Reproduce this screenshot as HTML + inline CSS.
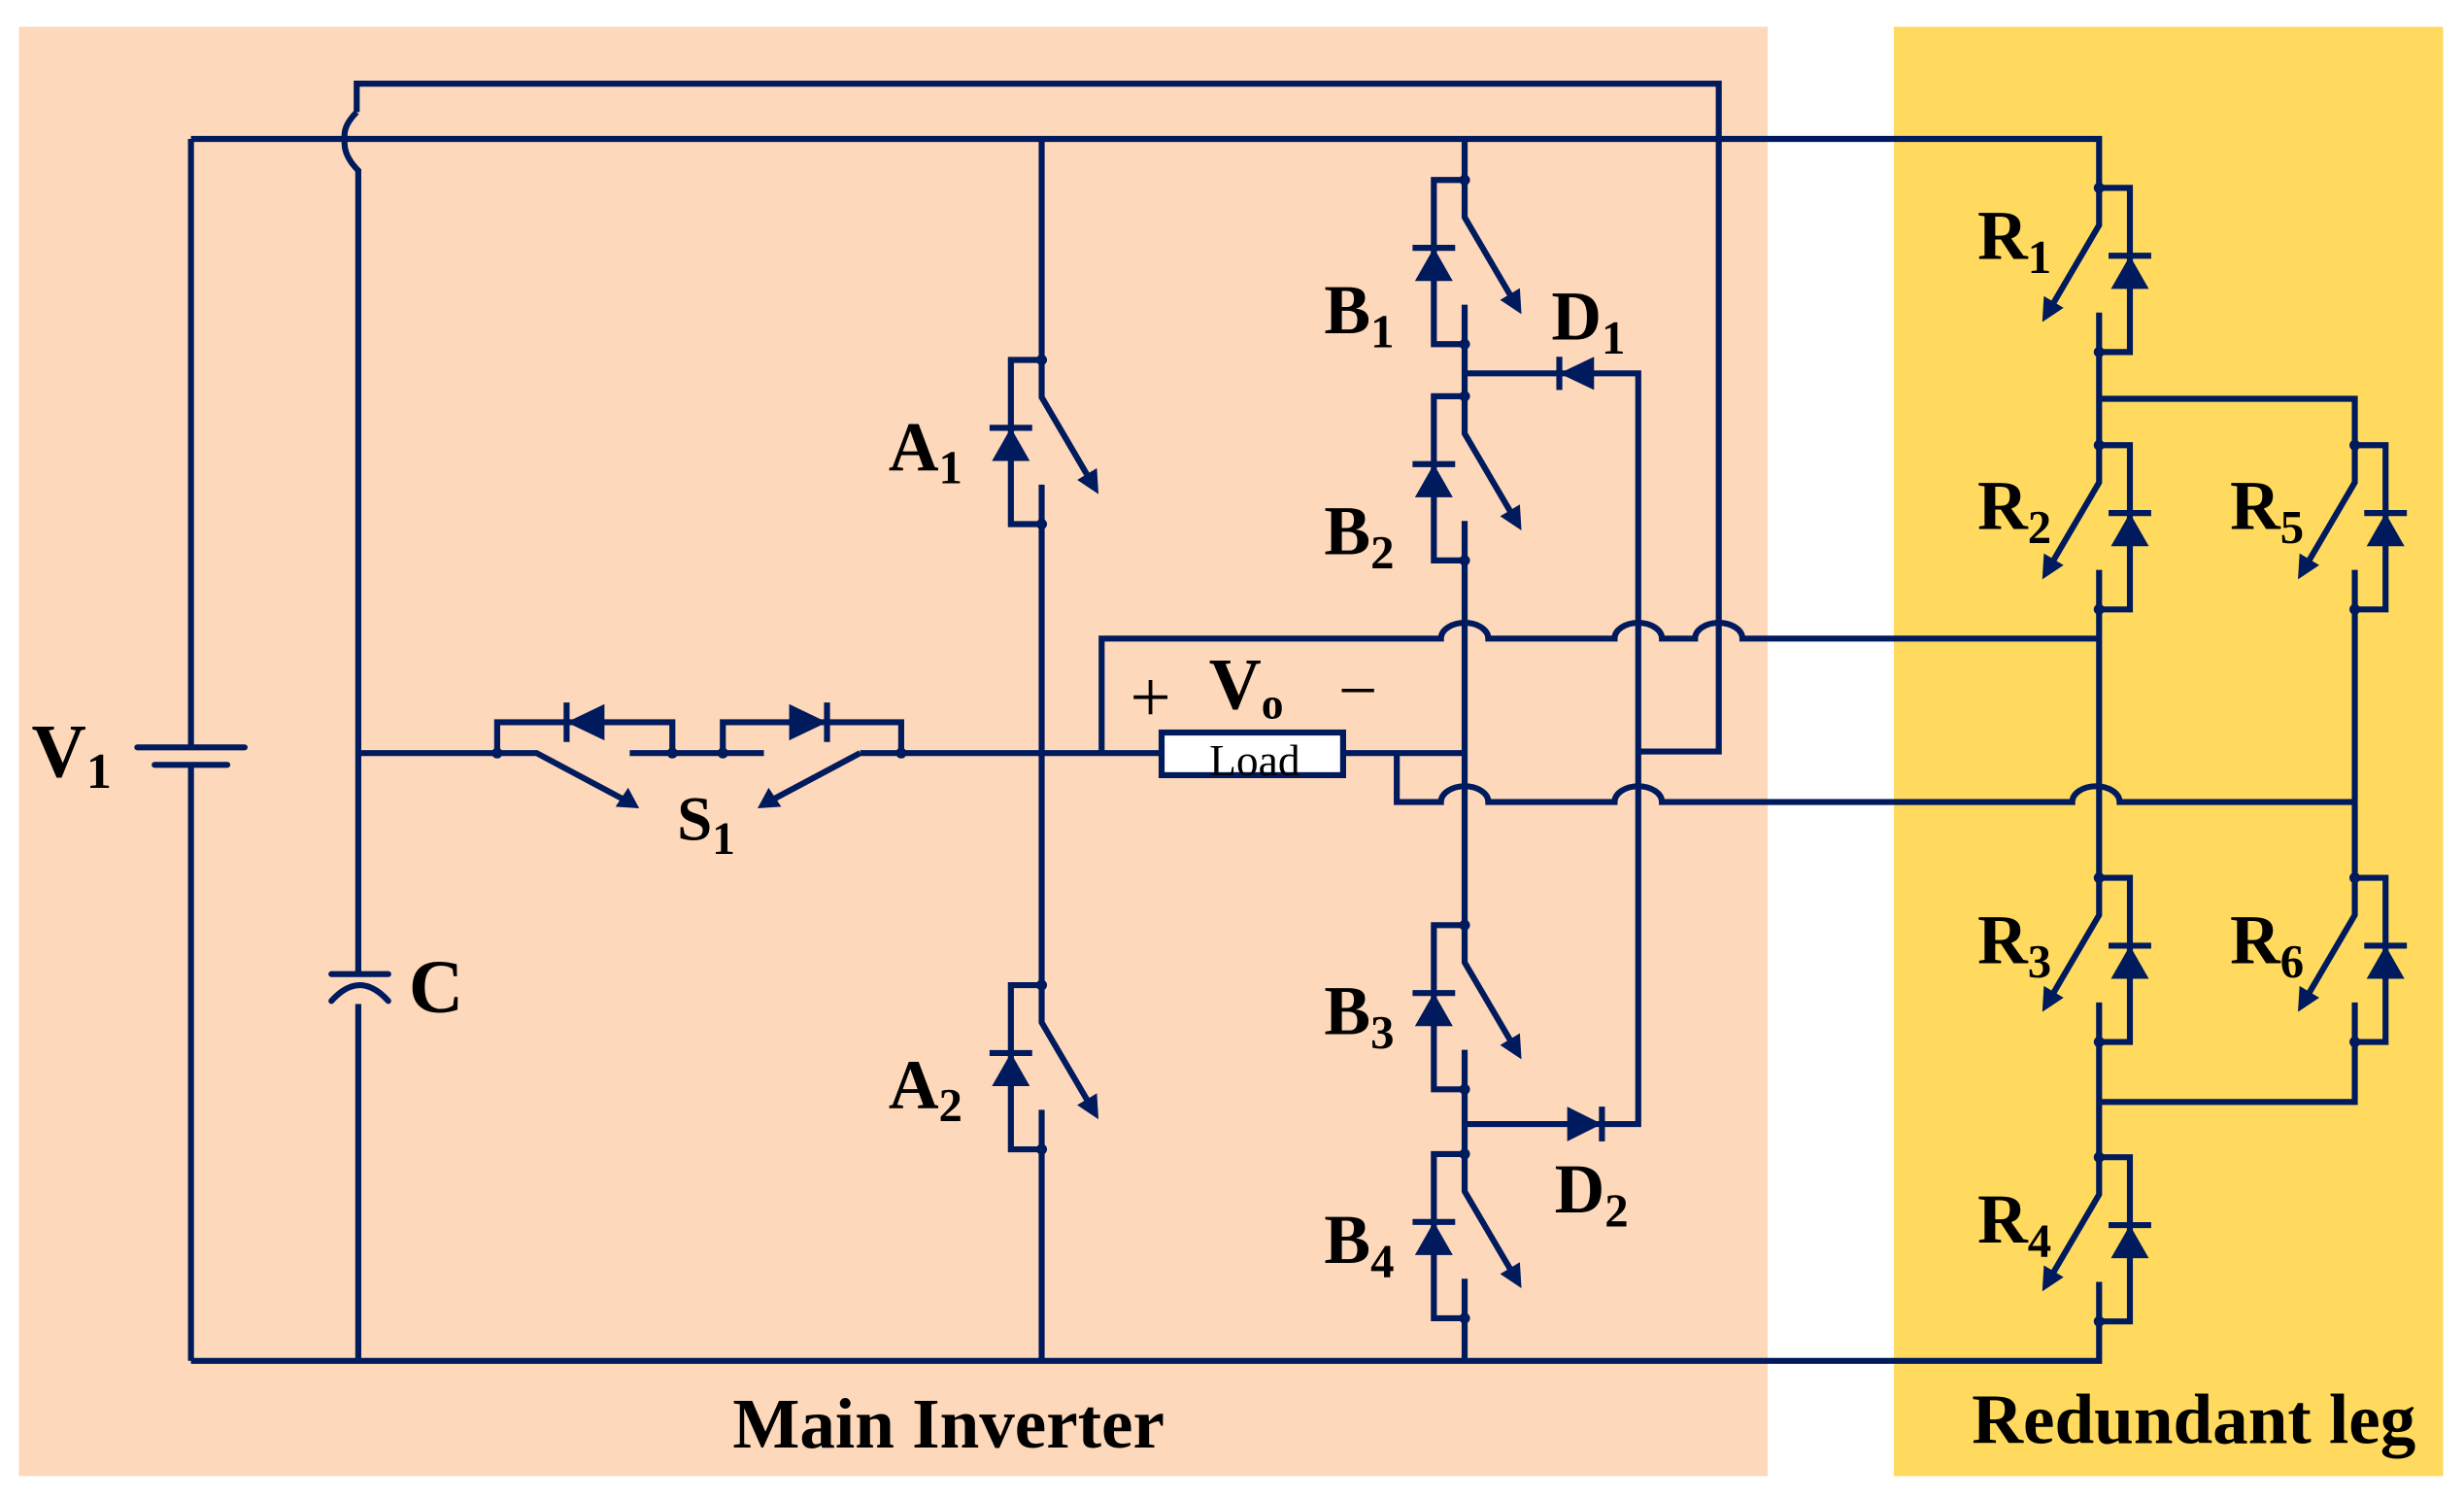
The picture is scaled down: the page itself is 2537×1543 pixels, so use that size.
<!DOCTYPE html>
<html><head><meta charset="utf-8"><style>
html,body{margin:0;padding:0;background:#fff;}
svg{display:block;}
text{font-family:"Liberation Serif",serif;font-weight:bold;fill:#000;}
text.n{font-weight:normal;}
</style></head><body>
<svg width="2537" height="1543" viewBox="0 0 1561.2 949.5" preserveAspectRatio="none" xmlns="http://www.w3.org/2000/svg">
<defs>
<g id="sw">
<path d="M0,0 V23.6 L31,76.5 M0,79 V104 M0,0 H-19.5 V104 H0" fill="none" stroke="#001A5E" stroke-width="3.8"/>
<line x1="-33" y1="43" x2="-6" y2="43" stroke="#001A5E" stroke-width="3.8"/>
<polygon points="-19.5,43 -31.5,64 -7.5,64" fill="#001A5E"/>
<polygon points="36,85 22.5,76 35,68.5" fill="#001A5E"/>
<circle cx="0" cy="0" r="3.4" fill="#001A5E"/>
<circle cx="0" cy="104" r="3.4" fill="#001A5E"/>
</g>
</defs>
<rect x="12" y="17" width="1108" height="918" fill="#FDD8BA"/>
<rect x="1200" y="17" width="348" height="918" fill="#FFDA5E"/>

<g fill="none" stroke="#001A5E" stroke-width="3.8">
<path d="M226,71 V53 H1089 V476 H1038"/>
<path d="M226,71 Q217,80 218.5,88 Q217,98 227,108 V617"/>
<path d="M227,636 V862"/>
<path d="M121,88 H1330 V119"/>
<path d="M121,88 V473 M121,484 V862"/>
<path d="M121,862 H1330 V837"/>
<line x1="87" y1="473.4" x2="155" y2="473.4" stroke-linecap="round"/>
<line x1="98" y1="484.5" x2="144" y2="484.5" stroke-linecap="round"/>
<line x1="210" y1="617" x2="246" y2="617" stroke-linecap="round"/>
<path d="M210,634 Q228,614 246,634" stroke-linecap="round"/>
<path d="M227,477 H340 L402,510"/>
<path d="M399,477 H484"/>
<path d="M545,477 H738"/>
<path d="M545,477 L483,510"/>
<path d="M315,477 V457.5 H426 V477"/>
<path d="M458,477 V457.5 H571 V477"/>
<line x1="359" y1="445" x2="359" y2="470"/>
<line x1="524" y1="445" x2="524" y2="470"/>
<path d="M660,88 V228 M660,332 V624 M660,728 V862"/>
<path d="M928,88 V114 M928,218 V251 M928,355 V586 M928,690 V731 M928,835 V862"/>
<path d="M928,236.5 H1038 V712 H928"/>
<line x1="988" y1="226" x2="988" y2="247"/>
<line x1="1015" y1="701" x2="1015" y2="723"/>
<rect x="736" y="464" width="115" height="27" fill="#fff"/>
<path d="M851,477 H928"/>
<path d="M698,477 V404.5 H913 A15,10 0 0 1 943,404.5 H1023 A15,10 0 0 1 1053,404.5 H1074 A15,10 0 0 1 1104,404.5 H1330"/>
<path d="M885,477 V508 H913 A15,10 0 0 1 943,508 H1023 A15,10 0 0 1 1053,508 H1313 A15,10 0 0 1 1343,508 H1492"/>
<path d="M1330,223 V282 M1330,386 V556 M1330,660 V733"/>
<path d="M1330,252.6 H1492 V282 M1492,386 V556 M1492,660 V698 H1330"/>
</g>
<polygon points="359,457.5 383,446 383,469" fill="#001A5E"/>
<polygon points="524,457.5 500,446 500,469" fill="#001A5E"/>
<polygon points="405,512 390,511 398,499" fill="#001A5E"/>
<polygon points="480,512 487,499 495,511" fill="#001A5E"/>
<polygon points="988,236.5 1010,226 1010,247" fill="#001A5E"/>
<polygon points="1015,712 993,701 993,723" fill="#001A5E"/>
<g fill="#001A5E">
<circle cx="315" cy="477" r="3.4"/><circle cx="426" cy="477" r="3.4"/>
<circle cx="458" cy="477" r="3.4"/><circle cx="571" cy="477" r="3.4"/>
</g>

<use href="#sw" transform="translate(660,228)"/>
<use href="#sw" transform="translate(660,624)"/>
<use href="#sw" transform="translate(928,114)"/>
<use href="#sw" transform="translate(928,251)"/>
<use href="#sw" transform="translate(928,586)"/>
<use href="#sw" transform="translate(928,731)"/>
<use href="#sw" transform="translate(1330,119) scale(-1,1)"/>
<use href="#sw" transform="translate(1330,282) scale(-1,1)"/>
<use href="#sw" transform="translate(1492,282) scale(-1,1)"/>
<use href="#sw" transform="translate(1330,556) scale(-1,1)"/>
<use href="#sw" transform="translate(1492,556) scale(-1,1)"/>
<use href="#sw" transform="translate(1330,733) scale(-1,1)"/>

<text x="20" y="492" font-size="48">V<tspan font-size="32" dy="7">1</tspan></text>
<text x="259" y="641" font-size="48">C</text>
<text x="429" y="532" font-size="40">S<tspan font-size="29" dy="9">1</tspan></text>
<text x="563" y="298" font-size="44">A<tspan font-size="30" dy="8">1</tspan></text>
<text x="563" y="702" font-size="44">A<tspan font-size="30" dy="8">2</tspan></text>
<text x="839" y="211" font-size="44">B<tspan font-size="30" dy="9">1</tspan></text>
<text x="839" y="351" font-size="44">B<tspan font-size="30" dy="9">2</tspan></text>
<text x="839" y="655" font-size="44">B<tspan font-size="30" dy="9">3</tspan></text>
<text x="839" y="800" font-size="44">B<tspan font-size="30" dy="9">4</tspan></text>
<text x="983" y="215" font-size="44">D<tspan font-size="30" dy="9">1</tspan></text>
<text x="985" y="768" font-size="44">D<tspan font-size="30" dy="9">2</tspan></text>
<text x="1253" y="164" font-size="44">R<tspan font-size="30" dy="9">1</tspan></text>
<text x="1253" y="335" font-size="44">R<tspan font-size="30" dy="9">2</tspan></text>
<text x="1413" y="335" font-size="44">R<tspan font-size="30" dy="9">5</tspan></text>
<text x="1253" y="610" font-size="44">R<tspan font-size="30" dy="9">3</tspan></text>
<text x="1413" y="610" font-size="44">R<tspan font-size="30" dy="9">6</tspan></text>
<text x="1253" y="787" font-size="44">R<tspan font-size="30" dy="9">4</tspan></text>
<text class="n" x="716" y="457" font-size="46">+</text>
<text x="766" y="449" font-size="46">V<tspan font-size="28" dy="6">o</tspan></text>
<text class="n" x="848" y="452" font-size="44">−</text>
<text class="n" x="795" y="491" font-size="28" text-anchor="middle">Load</text>
<text x="601" y="917" font-size="45" text-anchor="middle">Main Inverter</text>
<text x="1390" y="914" font-size="45" text-anchor="middle">Redundant leg</text>
</svg>
</body></html>
